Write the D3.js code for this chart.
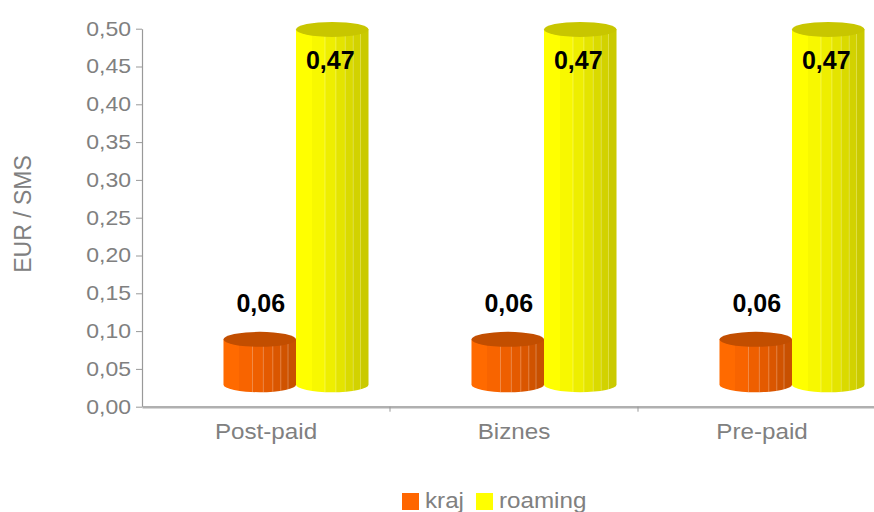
<!DOCTYPE html>
<html><head><meta charset="utf-8">
<script src="https://cdn.jsdelivr.net/npm/d3@7"></script>
<style>
body{margin:0;background:#fff;}
text{font-family:"Liberation Sans",Arial,sans-serif;}
</style></head>
<body><svg id="c" width="874" height="512"></svg>
<script>
const categories = ["Post-paid", "Biznes", "Pre-paid"];
const seriesNames = ["kraj", "roaming"];
const krajValues = [0.06, 0.06, 0.06];
const roamingValues = [0.47, 0.47, 0.47];
const yTicks = [0, 0.05, 0.1, 0.15, 0.2, 0.25, 0.3, 0.35, 0.4, 0.45, 0.5];
const seriesColors = {
  kraj: {base:"#ff6600", stripes:["#ff6a00","#f86400","#ee5f00","#e45a00","#da5600","#d05300","#c85000"], top:"#c24e00"},
  roaming: {base:"#ffff00", stripes:["#ffff00","#f8f800","#eeee00","#e4e400","#dada00","#d2d200","#caca00"], top:"#c8c600"}
};

const svg = d3.select("#c");
const left = 142, right = 886, y0 = 406.7, yTop = 28.7;
const depthX = 30, depthY = -22, ry = 7.5;

const x0 = d3.scaleBand().domain(categories).range([left, right]);
const x1 = d3.scaleBand().domain(seriesNames).range([0, x0.bandwidth()]).paddingOuter(0.71);
const y = d3.scaleLinear().domain([0, 0.5]).range([y0, yTop]);

const fmt = v => d3.format(".2f")(v).replace(".", ",");
const FONT = "Liberation Sans, Arial, sans-serif";

// gradients
const defs = svg.append("defs");
const edges = [0, 0.22, 0.40, 0.55, 0.68, 0.79, 0.89, 1];
seriesNames.forEach(s => {
  const g = defs.append("linearGradient").attr("id", "g_" + s).attr("x1", "0").attr("x2", "1").attr("y1", "0").attr("y2", "0");
  seriesColors[s].stripes.forEach((c, i) => {
    g.append("stop").attr("offset", edges[i]).attr("stop-color", c);
    g.append("stop").attr("offset", edges[i + 1]).attr("stop-color", c);
  });
});

// axes
const yAxis = d3.axisLeft(y).tickValues(yTicks).tickSize(6).tickSizeOuter(0).tickPadding(5).tickFormat(fmt);
const gy = svg.append("g").attr("transform", `translate(${left},0)`).call(yAxis);
gy.select(".domain").attr("stroke", "#999").attr("stroke-width", 1.2);
gy.selectAll(".tick line").attr("stroke", "#999");
gy.selectAll(".tick text").attr("fill", "#808080").style("font-size", "20px").style("font-family", FONT)
  .attr("x", 0).attr("transform", "translate(-11,0) scale(1.15,1)");

const xAxis = d3.axisBottom(x0).tickSize(0).tickPadding(16.7);
const gx = svg.append("g").attr("transform", `translate(0,${y0})`).call(xAxis);
gx.select(".domain").attr("stroke", "#b0b0b0").attr("stroke-width", 2.5);
gx.selectAll(".tick text").attr("fill", "#808080").style("font-size", "22px").style("font-family", FONT)
  .attr("transform", "scale(1.1,1)");
// category separator ticks
svg.append("g").selectAll("line").data(categories.slice(1)).join("line")
  .attr("x1", d => x0(d)).attr("x2", d => x0(d))
  .attr("y1", y0).attr("y2", y0 + 5).attr("stroke", "#999");

// y-axis title
svg.append("text").attr("transform", "translate(31,214) rotate(-90)")
  .attr("text-anchor", "middle").attr("fill", "#808080")
  .style("font-size", "23px").text("EUR / SMS");

// bars
const data = [];
categories.forEach((c, i) => {
  data.push({cat: c, s: "kraj", v: krajValues[i]});
  data.push({cat: c, s: "roaming", v: roamingValues[i]});
});

const bars = svg.append("g");
data.forEach(d => {
  const xl = x0(d.cat) + x1(d.s) + depthX;
  const w = x1.bandwidth();
  const rx = w / 2;
  const cx = xl + rx;
  const yt = y(d.v) + depthY;
  const yb = y(0) + depthY;
  const body = `M${xl},${yt} L${xl},${yb} A${rx},${ry} 0 0 0 ${xl + w},${yb} L${xl + w},${yt} Z`;
  bars.append("path").attr("d", body).attr("fill", `url(#g_${d.s})`);
  [0.40, 0.55, 0.68, 0.79, 0.89].forEach(f => {
    const lx = xl + f * w;
    const dyb = ry * Math.sqrt(Math.max(0, 1 - Math.pow((lx - cx) / rx, 2)));
    bars.append("line").attr("x1", lx).attr("x2", lx).attr("y1", yt).attr("y2", yb + dyb)
      .attr("stroke", "#ffffff").attr("stroke-opacity", 0.35).attr("stroke-width", 0.8);
  });
  bars.append("ellipse").attr("cx", cx).attr("cy", yt).attr("rx", rx).attr("ry", ry)
    .attr("fill", seriesColors[d.s].top);
});

// value labels
const labels = svg.append("g");
data.forEach(d => {
  const xl = x0(d.cat) + x1(d.s) + depthX;
  const w = x1.bandwidth();
  const yt = y(d.v) + depthY;
  const outside = d.s === "kraj";
  labels.append("text")
    .attr("x", xl + w / 2 + (outside ? 1 : -2))
    .attr("y", outside ? yt - 27 : yt + 40)
    .attr("text-anchor", "middle").attr("fill", "#000")
    .style("font-size", "25px").style("font-weight", "bold")
    .text(fmt(d.v));
});

// legend
const legend = svg.append("g");
const legendItems = [{s: "kraj", x: 402}, {s: "roaming", x: 476}];
legendItems.forEach(it => {
  legend.append("rect").attr("x", it.x).attr("y", 493).attr("width", 17).attr("height", 17).attr("fill", seriesColors[it.s].base);
  legend.append("text").attr("transform", `translate(${it.x + 23},507.5) scale(1.1,1)`).attr("fill", "#808080")
    .style("font-size", "22px").text(it.s);
});
</script></body></html>
